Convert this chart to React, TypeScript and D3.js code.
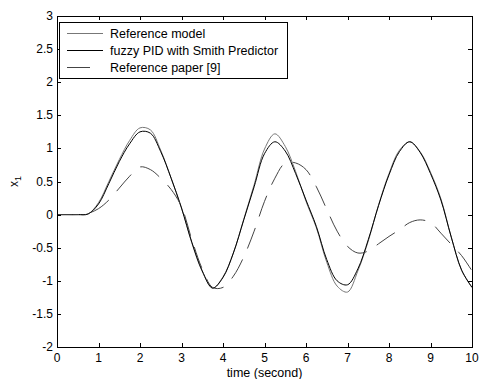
import React from "react";
import * as d3 from "d3";

const times = d3.range(0, 10.001, 0.25).map((v) => +v.toFixed(2));

const referenceModel = [
  0, 0, 0, 0.01, 0.18, 0.5, 0.83, 1.12, 1.31, 1.28, 0.97, 0.55, 0.1, -0.43, -0.86, -1.11,
  -0.94, -0.58, -0.07, 0.45, 0.99, 1.22, 1.03, 0.65, 0.2, -0.2, -0.72, -1.08, -1.17, -0.85,
  -0.4, 0.15, 0.62, 0.97, 1.1, 0.95, 0.64, 0.24, -0.34, -0.84, -1.1,
];
const fuzzyPID = [
  0, 0, 0, 0.01, 0.16, 0.47, 0.8, 1.07, 1.25, 1.23, 0.95, 0.55, 0.1, -0.42, -0.85, -1.11,
  -0.95, -0.58, -0.08, 0.42, 0.92, 1.1, 0.96, 0.62, 0.22, -0.18, -0.68, -1.0, -1.06, -0.82,
  -0.38, 0.14, 0.6, 0.95, 1.1, 0.94, 0.62, 0.22, -0.34, -0.84, -1.1,
];
const referencePaper = [
  0, 0, 0, 0.02, 0.09, 0.22, 0.4, 0.58, 0.72, 0.68, 0.55, 0.38, 0.12, -0.38, -0.82, -1.1,
  -1.1, -0.93, -0.64, -0.25, 0.2, 0.55, 0.78, 0.78, 0.68, 0.42, 0.08, -0.25, -0.48, -0.58,
  -0.55, -0.44, -0.33, -0.23, -0.12, -0.08, -0.12, -0.28, -0.45, -0.62, -0.85,
];

const xTicks = [0, 1, 2, 3, 4, 5, 6, 7, 8, 9, 10];
const yTicks = [-2, -1.5, -1, -0.5, 0, 0.5, 1, 1.5, 2, 2.5, 3];
const legendLabels = ["Reference model", "fuzzy PID with Smith Predictor", "Reference paper [9]"];

export default function App() {
  const W = 479, H = 379;
  const L = 57, R = 472, T = 16, B = 347;
  const x = d3.scaleLinear().domain([0, 10]).range([L, R]);
  const y = d3.scaleLinear().domain([-2, 3]).range([B, T]);
  const line = (vals: number[]) =>
    d3
      .line<number>()
      .x((_, i) => x(times[i]))
      .y((d) => y(d))
      .curve(d3.curveCatmullRom)(vals) || "";

  const font = "Liberation Sans, Arial, Helvetica, sans-serif";
  const series = [
    { vals: referenceModel, color: "#777", dash: undefined },
    { vals: fuzzyPID, color: "#000", dash: undefined },
    { vals: referencePaper, color: "#444", dash: "22,12" },
  ];
  const tl = 4;
  return (
    <svg width={W} height={H} style={{ position: "absolute", left: 0, top: 0, background: "#fff" }} fontFamily={font}>
      <rect x={0} y={0} width={W} height={H} fill="#fff" />
      <defs>
        <clipPath id="plot">
          <rect x={L} y={T} width={R - L} height={B - T} />
        </clipPath>
      </defs>
      <g clipPath="url(#plot)">
        {series.map((s, i) => (
          <path key={i} d={line(s.vals)} fill="none" stroke={s.color} strokeWidth={1} strokeDasharray={s.dash} />
        ))}
      </g>
      <rect x={L + 0.5} y={T + 0.5} width={R - L} height={B - T} fill="none" stroke="#000" strokeWidth={1} />
      {xTicks.map((t) => (
        <g key={"x" + t}>
          <line x1={Math.round(x(t)) + 0.5} x2={Math.round(x(t)) + 0.5} y1={B} y2={B - tl} stroke="#000" />
          <line x1={Math.round(x(t)) + 0.5} x2={Math.round(x(t)) + 0.5} y1={T} y2={T + tl} stroke="#000" />
          <text x={x(t)} y={362} fontSize={12} textAnchor="middle">{t}</text>
        </g>
      ))}
      {yTicks.map((t) => (
        <g key={"y" + t}>
          <line x1={L} x2={L + tl} y1={Math.round(y(t)) + 0.5} y2={Math.round(y(t)) + 0.5} stroke="#000" />
          <line x1={R} x2={R - tl} y1={Math.round(y(t)) + 0.5} y2={Math.round(y(t)) + 0.5} stroke="#000" />
          <text x={53} y={y(t) + 4} fontSize={12} textAnchor="end">{t}</text>
        </g>
      ))}
      <text x={(L + R) / 2} y={377} fontSize={12.5} textAnchor="middle">time (second)</text>
      <text transform={`translate(18,${(T + B) / 2}) rotate(-90)`} fontSize={12} textAnchor="middle">
        x<tspan fontSize={9} dy={3}>1</tspan>
      </text>
      <rect x={59.5} y={22.5} width={228} height={56} fill="#fff" stroke="#000" strokeWidth={1} />
      {legendLabels.map((lab, i) => {
        const ly = 33.5 + i * 17;
        const s = series[i];
        return (
          <g key={lab}>
            <line x1={67} x2={103} y1={ly} y2={ly} stroke={s.color} strokeWidth={1} strokeDasharray={s.dash ? "23,14" : undefined} />
            <text x={110} y={ly + 4.5} fontSize={12.5}>{lab}</text>
          </g>
        );
      })}
    </svg>
  );
}
